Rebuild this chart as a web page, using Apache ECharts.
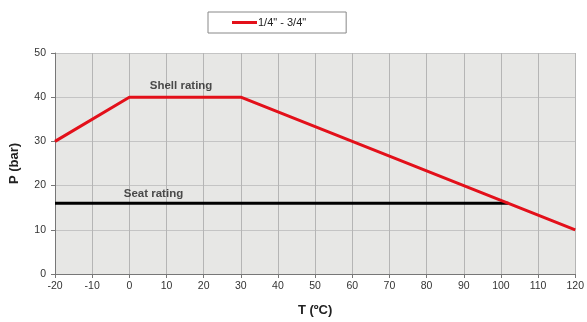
<!DOCTYPE html>
<html><head><meta charset="utf-8">
<script src="https://cdn.jsdelivr.net/npm/echarts@6/dist/echarts.min.js"></script>
<style>html,body{margin:0;padding:0;background:#fff}#c{width:587px;height:322px}</style>
</head><body><div id="c"></div>
<script>
const shellT = [-20, 0, 30, 120];
const shellP = [30, 40, 40, 10];
const seatT = [-20, 102];
const seatP = [16, 16];
const xTicks = {min: -20, max: 120, interval: 10};
const yTicks = {min: 0, max: 50, interval: 10};
const legendName = '1/4" - 3/4"';
const notes = [{text: 'Shell rating', t: 5.5, p: 42.6}, {text: 'Seat rating', t: -1.5, p: 18.2}];

const chart = echarts.init(document.getElementById('c'));
chart.setOption({
  animation: false,
  backgroundColor: '#fff',
  textStyle: {fontFamily: 'Liberation Sans, Arial, sans-serif'},
  legend: {
    top: 12, left: 208, data: [legendName],
    itemWidth: 25, itemHeight: 3, itemGap: 0,
    padding: [5, 40, 5, 24],
    borderColor: '#888', borderWidth: 1,
    textStyle: {fontSize: 11, color: '#222', padding: [0,0,0,-4]},
    icon: 'rect'
  },
  grid: {left: 54, right: 10, top: 53, bottom: 41, backgroundColor: '#e7e7e5', show: true, borderWidth: 0},
  xAxis: {
    type: 'value', min: xTicks.min, max: xTicks.max, interval: xTicks.interval,
    name: 'T (ºC)', nameLocation: 'middle', nameGap: 30,
    nameTextStyle: {fontSize: 13, fontWeight: 'bold', color: '#222'},
    axisLine: {onZero: false, lineStyle: {color: '#777'}},
    axisTick: {lineStyle: {color: '#777'}, length: 4},
    axisLabel: {fontSize: 10.5, color: '#333', margin: 7},
    splitLine: {lineStyle: {color: '#b5b5b5', width: 1}}
  },
  yAxis: {
    type: 'value', min: yTicks.min, max: yTicks.max, interval: yTicks.interval,
    name: 'P (bar)', nameLocation: 'middle', nameGap: 34,
    nameTextStyle: {fontSize: 13, fontWeight: 'bold', color: '#222'},
    axisLine: {show: true, onZero: false, lineStyle: {color: '#777'}},
    axisTick: {show: true, lineStyle: {color: '#777'}, length: 4},
    axisLabel: {fontSize: 10.5, color: '#333', margin: 9},
    splitLine: {lineStyle: {color: '#c4c4c4', width: 1}}
  },
  series: [
    {
      name: legendName, type: 'line', symbol: 'none',
      data: shellT.map((t, i) => [t, shellP[i]]),
      lineStyle: {color: '#e3101a', width: 3}, itemStyle: {color: '#e3101a'}, z: 3
    },
    {
      name: 'Seat', type: 'line', symbol: 'none',
      data: seatT.map((t, i) => [t, seatP[i]]),
      lineStyle: {color: '#000', width: 3}, itemStyle: {color: '#000'}, z: 2
    },
    {
      name: 'notes', type: 'scatter', symbolSize: 0,
      data: notes.map(n => ({value: [n.t, n.p], name: n.text})),
      label: {show: true, position: 'right', distance: 0, formatter: p => p.name,
        fontSize: 11.5, fontWeight: 'bold', color: '#222'},
      silent: true
    }
  ]
});
</script></body></html>
